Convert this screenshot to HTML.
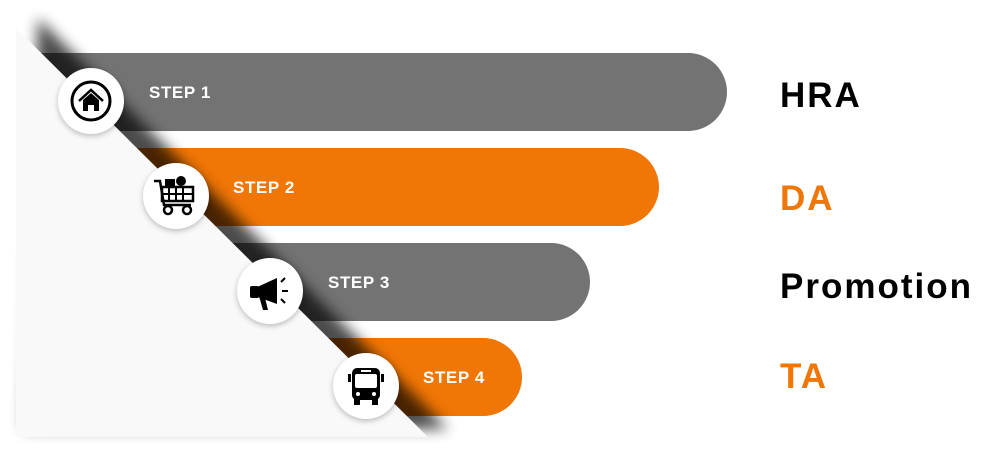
<!DOCTYPE html>
<html><head><style>
body{margin:0;width:994px;height:466px;background:#fff;position:relative;overflow:hidden;font-family:"Liberation Sans",sans-serif}
.bar{position:absolute;height:78px;border-radius:0 40px 40px 0}
.st{position:absolute;color:#fff;font-weight:bold;font-size:17px;letter-spacing:.6px}
.c{position:absolute;width:66px;height:66px;border-radius:50%;background:#fff;box-shadow:0 2px 6px rgba(0,0,0,.25);display:flex;align-items:center;justify-content:center}
.lb{position:absolute;left:780px;font-weight:bold;font-size:35px;letter-spacing:2px}
</style></head><body>
<div class="bar" style="left:30px;top:53px;width:697px;background:#737373"></div>
<div class="bar" style="left:30px;top:148px;width:629px;background:#F07605"></div>
<div class="bar" style="left:30px;top:243px;width:560px;background:#737373"></div>
<div class="bar" style="left:30px;top:338px;width:492px;background:#F07605"></div>
<svg width="994" height="466" style="position:absolute;left:0;top:0">
<defs><filter id="f" x="-20%" y="-20%" width="140%" height="140%"><feGaussianBlur stdDeviation="7"/></filter></defs>
<polygon points="30,26 440,437 16,437" fill="#000" opacity=".7" filter="url(#f)" transform="translate(8,-8)"/>
<polygon points="16,28 16,437 428,437" fill="#f9f9f9"/>
</svg>
<div class="st" style="left:149px;top:83px">STEP 1</div>
<div class="st" style="left:233px;top:178px">STEP 2</div>
<div class="st" style="left:328px;top:273px">STEP 3</div>
<div class="st" style="left:423px;top:368px">STEP 4</div>
<div class="c" style="left:58px;top:68px"><svg width="44" height="44" viewBox="0 0 44 44"><circle cx="22" cy="22" r="19" fill="none" stroke="#000" stroke-width="3"/><path d="M10 22 L22 11 L34 22" fill="none" stroke="#000" stroke-width="2.5"/><path d="M14 21 L22 14 L30 21 V32 H25 V26 H19 V32 H14Z"/></svg></div>
<div class="c" style="left:143px;top:163px"><svg width="50" height="50" viewBox="0 0 50 50"><path d="M3 10 H9 L13 34 H40" fill="none" stroke="#000" stroke-width="2.5"/><rect x="11" y="16" width="31" height="14" fill="none" stroke="#000" stroke-width="2.5"/><path d="M18 16V30M25 16V30M32 16V30M11 23H42" stroke="#000" stroke-width="2"/><rect x="14" y="8" width="10" height="8"/><circle cx="30" cy="10" r="5"/><circle cx="17" cy="39" r="4" fill="none" stroke="#000" stroke-width="2.5"/><circle cx="36" cy="39" r="4" fill="none" stroke="#000" stroke-width="2.5"/></svg></div>
<div class="c" style="left:237px;top:258px"><svg width="46" height="46" viewBox="0 0 46 46"><path d="M8 20 L30 10 V36 L8 28Z"/><rect x="3" y="18" width="9" height="12" rx="2"/><path d="M12 28 L16 42 H21 L18 30Z"/><path d="M34 14 L38 10 M35 23 H41 M34 31 L38 35" stroke="#000" stroke-width="2"/></svg></div>
<div class="c" style="left:333px;top:353px"><svg width="44" height="44" viewBox="0 0 44 44"><rect x="8" y="4" width="28" height="32" rx="5"/><rect x="11" y="10" width="22" height="14" rx="2" fill="#fff"/><rect x="17" y="6" width="10" height="2" fill="#fff"/><rect x="10" y="35" width="6" height="6"/><rect x="28" y="35" width="6" height="6"/><circle cx="14" cy="30" r="2" fill="#fff"/><circle cx="30" cy="30" r="2" fill="#fff"/><rect x="4" y="10" width="3" height="8"/><rect x="37" y="10" width="3" height="8"/></svg></div>
<div class="lb" style="top:76px;color:#000">HRA</div>
<div class="lb" style="top:179px;color:#F07605">DA</div>
<div class="lb" style="top:267px;color:#000">Promotion</div>
<div class="lb" style="top:357px;color:#F07605">TA</div>
</body></html>
